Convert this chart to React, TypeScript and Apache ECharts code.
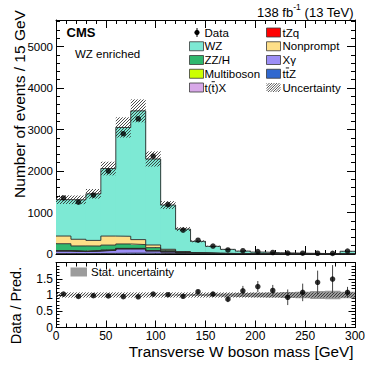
import React, { useEffect, useRef } from "react";
import * as echarts from "echarts";

// ---------- data ----------
const binEdges = [0, 15, 30, 45, 60, 75, 90, 105, 120, 135, 150, 165, 180, 195, 210, 225, 240, 255, 270, 285, 300];
const binCenters = [7.5, 22.5, 37.5, 52.5, 67.5, 82.5, 97.5, 112.5, 127.5, 142.5, 157.5, 172.5, 187.5, 202.5, 217.5, 232.5, 247.5, 262.5, 277.5, 292.5];

// stacked backgrounds, bottom -> top
const ttZ = [10, 10, 12, 15, 20, 20, 15, 10, 6, 4, 3, 2, 1.5, 1, 1, 0.8, 0.6, 0.5, 0.4, 1.5];
const xGamma = [62, 48, 60, 72, 102, 102, 58, 40, 20, 10, 6, 4, 3, 2, 1.5, 1, 0.8, 0.6, 0.5, 2];
const ttX = [3, 3, 3, 4, 5, 5, 4, 3, 2, 1.5, 1, 0.8, 0.6, 0.5, 0.4, 0.3, 0.3, 0.2, 0.2, 0.8];
const multiboson = [3, 3, 3, 4, 5, 5, 4, 3, 2, 1.5, 1, 0.8, 0.6, 0.5, 0.4, 0.3, 0.3, 0.2, 0.2, 0.8];
const tZq = [2, 2, 2, 3, 4, 4, 3, 2, 1.5, 1, 0.8, 0.6, 0.4, 0.3, 0.3, 0.2, 0.2, 0.2, 0.1, 0.5];
const zzH = [168, 128, 112, 117, 106, 91, 69, 32, 16, 8, 5, 3, 2, 1.5, 1, 0.8, 0.6, 0.5, 0.4, 1.5];
const nonprompt = [185, 161, 136, 217, 185, 120, 64, 24, 12, 6, 4, 3, 2, 1.5, 1, 0.8, 0.6, 0.5, 0.4, 1.5];
const wz = [877, 950, 1122, 1628, 2623, 3103, 2073, 1066, 540, 273, 164, 98, 60, 39, 26, 20, 15, 10, 8, 57];

const dataCounts = [1350, 1250, 1420, 2000, 2900, 3260, 2360, 1190, 575, 333, 192, 98, 79, 58, 36, 22, 19, 18, 15, 71];
const ratioValues = [1.03, 0.955, 0.98, 0.97, 0.95, 0.945, 1.03, 1.01, 0.96, 1.1, 1.03, 0.87, 1.13, 1.26, 1.14, 0.93, 1.08, 1.39, 1.49, 1.08];
const ratioErr = [0.03, 0.03, 0.03, 0.025, 0.02, 0.02, 0.02, 0.03, 0.04, 0.06, 0.07, 0.09, 0.15, 0.17, 0.17, 0.24, 0.27, 0.36, 0.43, 0.17];
const totalUnc = [0.08, 0.08, 0.08, 0.08, 0.08, 0.08, 0.08, 0.08, 0.08, 0.08, 0.08, 0.08, 0.08, 0.08, 0.08, 0.08, 0.08, 0.08, 0.08, 0.08];
const statUnc = [0.01, 0.01, 0.01, 0.01, 0.01, 0.01, 0.01, 0.015, 0.02, 0.03, 0.04, 0.05, 0.06, 0.07, 0.08, 0.09, 0.1, 0.12, 0.13, 0.1];

const yTicksUpper = [0, 1000, 2000, 3000, 4000, 5000];
const yTicksRatio = [0, 0.5, 1, 1.5];

const FONT = "'Liberation Sans', Arial, Helvetica, sans-serif";

const stackDefs = [
  { name: "ttZ", values: ttZ, color: "#3068CF" },
  { name: "Xgamma", values: xGamma, color: "#9C8EF6" },
  { name: "ttX", values: ttX, color: "#D8A8E8" },
  { name: "Multiboson", values: multiboson, color: "#CCFF00" },
  { name: "tZq", values: tZq, color: "#FF0000" },
  { name: "ZZH", values: zzH, color: "#2FB86E" },
  { name: "Nonprompt", values: nonprompt, color: "#FEDF88" },
  { name: "WZ", values: wz, color: "#7DE9D4" },
];

// ---------- helpers ----------
function hatch(x0: number, y0: number, w: number, h: number, color: string, lw: number, s = 3) {
  const out: any[] = [];
  for (let c = Math.ceil((x0 + y0) / s) * s; c <= x0 + w + y0 + h; c += s) {
    const xa = Math.max(x0, c - (y0 + h));
    const xb = Math.min(x0 + w, c - y0);
    if (xb > xa) {
      out.push({ type: "line", shape: { x1: xa, y1: c - xa, x2: xb, y2: c - xb }, style: { stroke: color, lineWidth: lw } });
    }
  }
  return out;
}

function rectSeries(name: string, rows: number[][], color: string, xi: number, yi: number, z: number) {
  return {
    type: "custom",
    name,
    xAxisIndex: xi,
    yAxisIndex: yi,
    z,
    clip: true,
    silent: true,
    data: rows,
    encode: { x: [0, 1], y: [2, 3] },
    renderItem: (_p: any, api: any) => {
      const a = api.coord([api.value(0), api.value(3)]);
      const b = api.coord([api.value(1), api.value(2)]);
      return {
        type: "rect",
        shape: { x: a[0], y: a[1], width: b[0] - a[0] + 0.4, height: b[1] - a[1] },
        style: { fill: color },
      };
    },
  };
}

function hatchSeries(name: string, rows: number[][], xi: number, yi: number, z: number) {
  return {
    type: "custom",
    name,
    xAxisIndex: xi,
    yAxisIndex: yi,
    z,
    clip: true,
    silent: true,
    data: rows,
    encode: { x: [0, 1], y: [2, 3] },
    renderItem: (_p: any, api: any) => {
      const a = api.coord([api.value(0), api.value(3)]);
      const b = api.coord([api.value(1), api.value(2)]);
      return { type: "group", children: hatch(a[0], a[1], b[0] - a[0], b[1] - a[1], "#2a2a2a", 0.85) };
    },
  };
}

// ---------- build options ----------
function buildOption() {
  const series: any[] = [];
  const cum = new Array(20).fill(0);
  stackDefs.forEach((d, k) => {
    const rows = d.values.map((v, i) => {
      const lo = cum[i];
      cum[i] = lo + v;
      return [binEdges[i], binEdges[i + 1], lo, cum[i]];
    });
    series.push(rectSeries(d.name, rows, d.color, 0, 0, 2 + k * 0.01));
  });
  // outlines
  const cum2 = new Array(20).fill(0);
  stackDefs.forEach((d) => {
    d.values.forEach((v, i) => (cum2[i] += v));
    const pts = binEdges.map((e, i) => [e, cum2[Math.min(i, 19)]]);
    series.push({
      type: "line",
      xAxisIndex: 0,
      yAxisIndex: 0,
      step: "end",
      symbol: "none",
      silent: true,
      z: 3,
      data: pts,
      lineStyle: { color: "#2a2a2a", width: 0.9 },
    });
  });
  const pred = cum2.slice();
  // uncertainty hatch (upper)
  series.push(
    hatchSeries(
      "unc",
      pred.map((p, i) => [binEdges[i], binEdges[i + 1], p * (1 - totalUnc[i]), p * (1 + totalUnc[i])]),
      0,
      0,
      4
    )
  );
  // data points (upper)
  series.push({
    type: "scatter",
    xAxisIndex: 0,
    yAxisIndex: 0,
    z: 6,
    symbol: "circle",
    symbolSize: 5.5,
    silent: true,
    itemStyle: { color: "#000" },
    data: binCenters.map((c, i) => [c, dataCounts[i]]),
  });

  // ratio panel
  series.push(
    rectSeries(
      "stat",
      statUnc.map((s, i) => [binEdges[i], binEdges[i + 1], 1 - s, 1 + s]),
      "#9c9c9c",
      1,
      1,
      2
    )
  );
  series.push(
    hatchSeries(
      "uncR",
      totalUnc.map((u, i) => [binEdges[i], binEdges[i + 1], 1 - u, 1 + u]),
      1,
      1,
      3
    )
  );
  series.push({
    type: "custom",
    xAxisIndex: 1,
    yAxisIndex: 1,
    z: 5,
    clip: true,
    silent: true,
    data: binCenters.map((c, i) => [c, ratioValues[i] - ratioErr[i], ratioValues[i] + ratioErr[i]]),
    encode: { x: 0, y: [1, 2] },
    renderItem: (_p: any, api: any) => {
      const a = api.coord([api.value(0), api.value(1)]);
      const b = api.coord([api.value(0), api.value(2)]);
      return { type: "line", shape: { x1: a[0], y1: a[1], x2: b[0], y2: b[1] }, style: { stroke: "#444", lineWidth: 1 } };
    },
  });
  series.push({
    type: "scatter",
    xAxisIndex: 1,
    yAxisIndex: 1,
    z: 6,
    symbol: "circle",
    symbolSize: 5.5,
    silent: true,
    itemStyle: { color: "#000" },
    data: binCenters.map((c, i) => [c, ratioValues[i]]),
  });

  const tickStyle = { color: "#000", width: 1 };
  const xBase = (grid: number, pos: string, labels: boolean, major: number, minor: number) => ({
    type: "value",
    gridIndex: grid,
    position: pos,
    min: 0,
    max: 300,
    interval: 50,
    axisLine: { show: true, onZero: false, lineStyle: { color: "#000", width: 1 } },
    axisTick: { show: true, inside: true, length: major, lineStyle: tickStyle },
    minorTick: { show: true, splitNumber: 5, length: minor, lineStyle: tickStyle },
    splitLine: { show: false },
    axisLabel: labels
      ? { show: true, fontSize: 12, color: "#000", fontFamily: FONT, margin: 2 }
      : { show: false },
  });
  const yBase = (
    grid: number,
    pos: string,
    labels: boolean,
    max: number,
    interval: number,
    ticks: number[],
    fs: number,
    major: number,
    minor: number
  ) => ({
    type: "value",
    gridIndex: grid,
    position: pos,
    min: 0,
    max,
    interval,
    axisLine: { show: true, onZero: false, lineStyle: { color: "#000", width: 1 } },
    axisTick: { show: true, inside: true, length: major, lineStyle: tickStyle },
    minorTick: { show: true, splitNumber: 5, length: minor, lineStyle: tickStyle },
    splitLine: { show: false },
    axisLabel: labels
      ? {
          show: true,
          fontSize: fs,
          color: "#000",
          fontFamily: FONT,
          margin: 3,
          showMaxLabel: true,
          formatter: (v: number) => (ticks.some((t) => Math.abs(t - v) < 1e-9) ? String(v) : ""),
        }
      : { show: false },
  });

  const legendRows1 = [
    { label: "WZ", color: "#7DE9D4" },
    { label: "ZZ/H", color: "#2FB86E" },
    { label: "Multiboson", color: "#CCFF00" },
    { label: "t(t)X", color: "#D8A8E8" },
  ];
  const legendRows2 = [
    { label: "tZq", color: "#FF0000" },
    { label: "Nonprompt", color: "#FEDF88" },
    { label: "X\u03b3", color: "#9C8EF6" },
    { label: "ttZ", color: "#3068CF" },
  ];
  const rowY = (i: number) => 32.5 + 13.75 * i;
  const graphics: any[] = [];
  const txt = (x: number, y: number, text: string, size: number, extra: any = {}) => ({
    type: "text",
    x,
    y,
    z: 100,
    style: { text, fontSize: size, fontFamily: FONT, fill: "#000", verticalAlign: "middle", align: "left", ...extra },
  });
  // data legend entry
  graphics.push({ type: "line", z: 100, shape: { x1: 197, y1: 28, x2: 197, y2: 37 }, style: { stroke: "#000", lineWidth: 1 } });
  graphics.push({ type: "circle", z: 100, shape: { cx: 197, cy: 32.5, r: 2.6 }, style: { fill: "#000" } });
  graphics.push(txt(204.5, rowY(0), "Data", 11.5));
  legendRows1.forEach((r, i) => {
    graphics.push({ type: "rect", z: 100, shape: { x: 189.5, y: rowY(i + 1) - 4.5, width: 14, height: 9 }, style: { fill: r.color, stroke: "#3a3a3a", lineWidth: 0.8 } });
    graphics.push(txt(204.5, rowY(i + 1), r.label, 11.5));
  });
  legendRows2.forEach((r, i) => {
    graphics.push({ type: "rect", z: 100, shape: { x: 266.5, y: rowY(i) - 4.5, width: 14, height: 9 }, style: { fill: r.color, stroke: "#3a3a3a", lineWidth: 0.8 } });
    graphics.push(txt(282.5, rowY(i), r.label, 11.5));
  });
  // anti-top bars over the "t" in t(t)X and ttZ
  const barY = (i: number) => rowY(i) - 5.8;
  graphics.push({ type: "line", z: 101, shape: { x1: 211.6, y1: barY(4), x2: 214.9, y2: barY(4) }, style: { stroke: "#000", lineWidth: 0.9 } });
  graphics.push({ type: "line", z: 101, shape: { x1: 285.8, y1: barY(3), x2: 289.1, y2: barY(3) }, style: { stroke: "#000", lineWidth: 0.9 } });
  graphics.push({ type: "group", z: 100, children: hatch(266.5, rowY(4) - 4.5, 14, 9, "#333", 0.8, 2.5) });
  graphics.push(txt(282.5, rowY(4), "Uncertainty", 11.5));

  // texts
  graphics.push(txt(66.5, 32.5, "CMS", 13, { fontWeight: "bold" }));
  graphics.push(txt(75, 53.5, "WZ enriched", 11.5));
  graphics.push({
    type: "text",
    x: 353.5,
    y: 10.5,
    z: 100,
    style: {
      text: "{a|138 fb}{s|-1}{a| (13 TeV)}",
      align: "right",
      verticalAlign: "middle",
      fontFamily: FONT,
      fontSize: 13,
      fill: "#000",
      rich: {
        a: { fontSize: 13, fontFamily: FONT, fill: "#000", verticalAlign: "bottom", lineHeight: 16 },
        s: { fontSize: 8.5, fontFamily: FONT, fill: "#000", verticalAlign: "top", lineHeight: 10 },
      },
    },
  });
  graphics.push({
    type: "text",
    x: 19,
    y: 104,
    rotation: Math.PI / 2,
    z: 100,
    style: { text: "Number of events / 15 GeV", fontSize: 15.5, fontFamily: FONT, fill: "#000", align: "center", verticalAlign: "middle" },
  });
  graphics.push({
    type: "text",
    x: 15.5,
    y: 305.5,
    rotation: Math.PI / 2,
    z: 100,
    style: { text: "Data / Pred.", fontSize: 14.5, fontFamily: FONT, fill: "#000", align: "center", verticalAlign: "middle" },
  });
  graphics.push({
    type: "text",
    x: 353.5,
    y: 351,
    z: 100,
    style: { text: "Transverse W boson mass [GeV]", fontSize: 15.3, fontFamily: FONT, fill: "#000", align: "right", verticalAlign: "middle" },
  });
  // ratio legend
  graphics.push({ type: "rect", z: 100, shape: { x: 70.5, y: 267.5, width: 16.5, height: 9 }, style: { fill: "#9c9c9c" } });
  graphics.push(txt(91, 272, "Stat. uncertainty", 11.5));

  return {
    backgroundColor: "#fff",
    animation: false,
    grid: [
      { left: 56, top: 20, width: 299, height: 234 },
      { left: 56, top: 262.5, width: 299, height: 65 },
    ],
    xAxis: [
      xBase(0, "bottom", false, 8, 4),
      xBase(1, "bottom", true, 7, 4),
      xBase(0, "top", false, 8, 4),
      xBase(1, "top", false, 7, 4),
    ],
    yAxis: [
      yBase(0, "left", true, 5640, 1000, yTicksUpper, 11.5, 8, 4),
      yBase(1, "left", true, 2, 0.5, yTicksRatio, 12, 6.5, 3.5),
      yBase(0, "right", false, 5640, 1000, yTicksUpper, 11.5, 8, 4),
      yBase(1, "right", false, 2, 0.5, yTicksRatio, 12, 6.5, 3.5),
    ],
    series,
    graphic: { elements: graphics },
  };
}

export default function App() {
  const ref = useRef<HTMLDivElement>(null);
  useEffect(() => {
    if (!ref.current) return;
    const chart = echarts.init(ref.current, undefined, { renderer: "svg" });
    chart.setOption(buildOption() as any);
    return () => chart.dispose();
  }, []);
  return (
    <div
      ref={ref}
      style={{ position: "absolute", left: 0, top: 0, width: 374, height: 374, background: "#fff" }}
    />
  );
}
